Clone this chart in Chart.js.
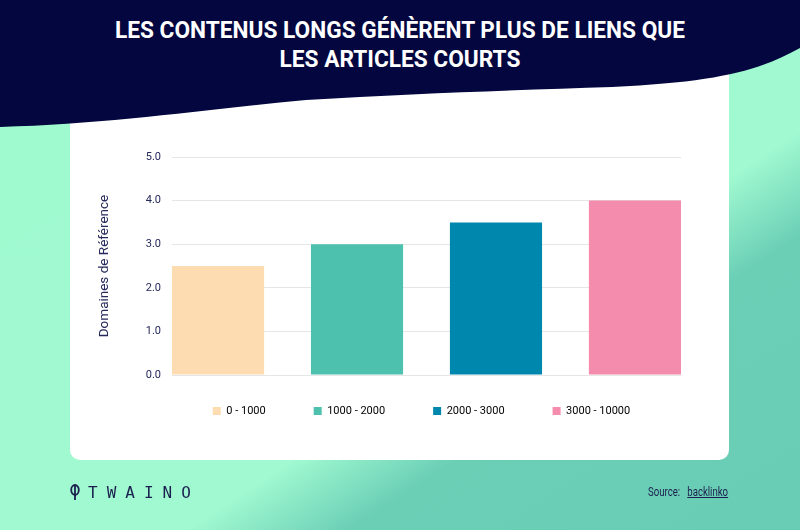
<!DOCTYPE html>
<html>
<head>
<meta charset="utf-8">
<script src="https://cdn.jsdelivr.net/npm/chart.js@4.4.1/dist/chart.umd.min.js"></script>
<style>
  html, body { margin: 0; padding: 0; }
  body {
    width: 800px; height: 530px; position: relative; overflow: hidden;
    background: linear-gradient(147deg, #a0fad0 0%, #a0f9d0 62%, #6bcfb6 72%, #69ccb4 100%);
    font-family: Roboto, sans-serif;
    color: #1b1f4e;
  }
  .card {
    position: absolute; left: 70px; top: 60px; width: 659px; height: 400px;
    background: #fff; border-radius: 10px;
  }
  svg.wave { position: absolute; left: 0; top: 0; }
  h1 {
    position: absolute; left: 0; top: 16px; width: 800px; margin: 0;
    text-align: center; color: #fff; font-size: 23px; font-weight: bold;
    line-height: 29px; font-family: Roboto, sans-serif;
  }
  h1 span { display: inline-block; }
  #chart { position: absolute; left: 0; top: 0; }
  .logo {
    position: absolute; left: 70px; top: 483px; font-size: 16px;
    letter-spacing: 9px; font-family: "DejaVu Sans Mono", monospace; color: #1b1f4e;
  }
  .logo svg { vertical-align: -2px; margin-right: 8px; }
  .source {
    position: absolute; left: 648px; top: 485px; font-size: 12px; color: #1b1f4e;
    transform: scaleX(0.8); transform-origin: left center; white-space: nowrap;
  }
  .source span { text-decoration: underline; margin-left: 6px; }
</style>
</head>
<body>
<div class="card"></div>
<svg class="wave" width="800" height="130" viewBox="0 0 800 130">
  <path d="M0,0 L800,0 L800,48 C760,70 720,82 612,87 C520,90 420,93 306,100 C200,110 110,124 0,127 Z" fill="#03063f"/>
</svg>
<h1 id="title"><span>LES CONTENUS LONGS GÉNÈRENT PLUS DE LIENS QUE</span><br><span>LES ARTICLES COURTS</span></h1>
<canvas id="chart" width="800" height="530"></canvas>
<div class="logo"><svg width="10" height="16" viewBox="0 0 10 16"><ellipse cx="5" cy="6" rx="3.8" ry="5" fill="none" stroke="#1b1f4e" stroke-width="1.8"/><line x1="5" y1="1" x2="5" y2="16" stroke="#1b1f4e" stroke-width="1.8"/></svg>TWAINO</div>
<div class="source">Source: <span>backlinko</span></div>

<script>
const categories = ['0 - 1000', '1000 - 2000', '2000 - 3000', '3000 - 10000'];
const domaines = [2.5, 3.0, 3.5, 4.0];
const barColors = ['#fddcb2', '#4dc1ad', '#0087ad', '#f48cad'];
const yTicks = [0, 1, 2, 3, 4, 5];

const navy = '#24285a';
const barFrac = 0.663;
const legendPad = 48;

// squeeze the title to the width of the condensed original
const firstLine = document.querySelector('#title span');
const sx = 570 / firstLine.getBoundingClientRect().width;
document.getElementById('title').style.transform = 'scaleX(' + sx + ')';

// move the legend to where the reference draws it
const legendShift = {
  id: 'legendShift',
  afterLayout(chart) {
    const lg = chart.legend;
    if (!lg) return;
    const dy = 405.5 - legendPad - lg.top;
    const dx = 46;
    lg.top += dy; lg.bottom += dy;
    lg.left += dx; lg.right += dx;
  }
};

new Chart(document.getElementById('chart'), {
  type: 'bar',
  data: {
    datasets: [{
      label: 'Domaines de Référence',
      data: domaines.map((v, i) => ({ x: i, y: v })),
      backgroundColor: barColors,
      borderWidth: 0,
      categoryPercentage: 1,
      barPercentage: barFrac
    }]
  },
  options: {
    responsive: false,
    animation: false,
    layout: { padding: { left: 70, right: 119, top: 157, bottom: 86 } },
    scales: {
      x: {
        type: 'linear',
        display: false,
        offset: false,
        min: -barFrac / 2,
        max: categories.length - 1 + barFrac / 2,
        afterBuildTicks(scale) { scale.ticks = categories.map((c, i) => ({ value: i })); }
      },
      y: {
        min: 0,
        max: 5,
        afterFit(scale) { scale.width = 102; },
        afterBuildTicks(scale) { scale.ticks = yTicks.map(v => ({ value: v })); },
        ticks: {
          color: navy,
          padding: 11,
          font: { family: 'Roboto', size: 11 },
          callback: v => Number(v).toFixed(1)
        },
        grid: { color: '#e6e6e6', drawTicks: false },
        border: { display: false },
        title: {
          display: true,
          text: 'Domaines de Référence',
          color: navy,
          padding: { top: 27, bottom: 0 },
          font: { family: 'Roboto', size: 13.5 }
        }
      }
    },
    plugins: {
      legend: {
        position: 'bottom',
        labels: {
          color: navy,
          padding: legendPad,
          boxWidth: 8,
          boxHeight: 8,
          font: { family: 'Roboto', size: 11 },
          generateLabels: chart => categories.map((c, i) => ({
            text: c,
            fillStyle: barColors[i],
            strokeStyle: barColors[i],
            lineWidth: 0,
            hidden: false,
            index: i
          }))
        }
      },
      tooltip: { enabled: false }
    }
  },
  plugins: [legendShift]
});
</script>
</body>
</html>
